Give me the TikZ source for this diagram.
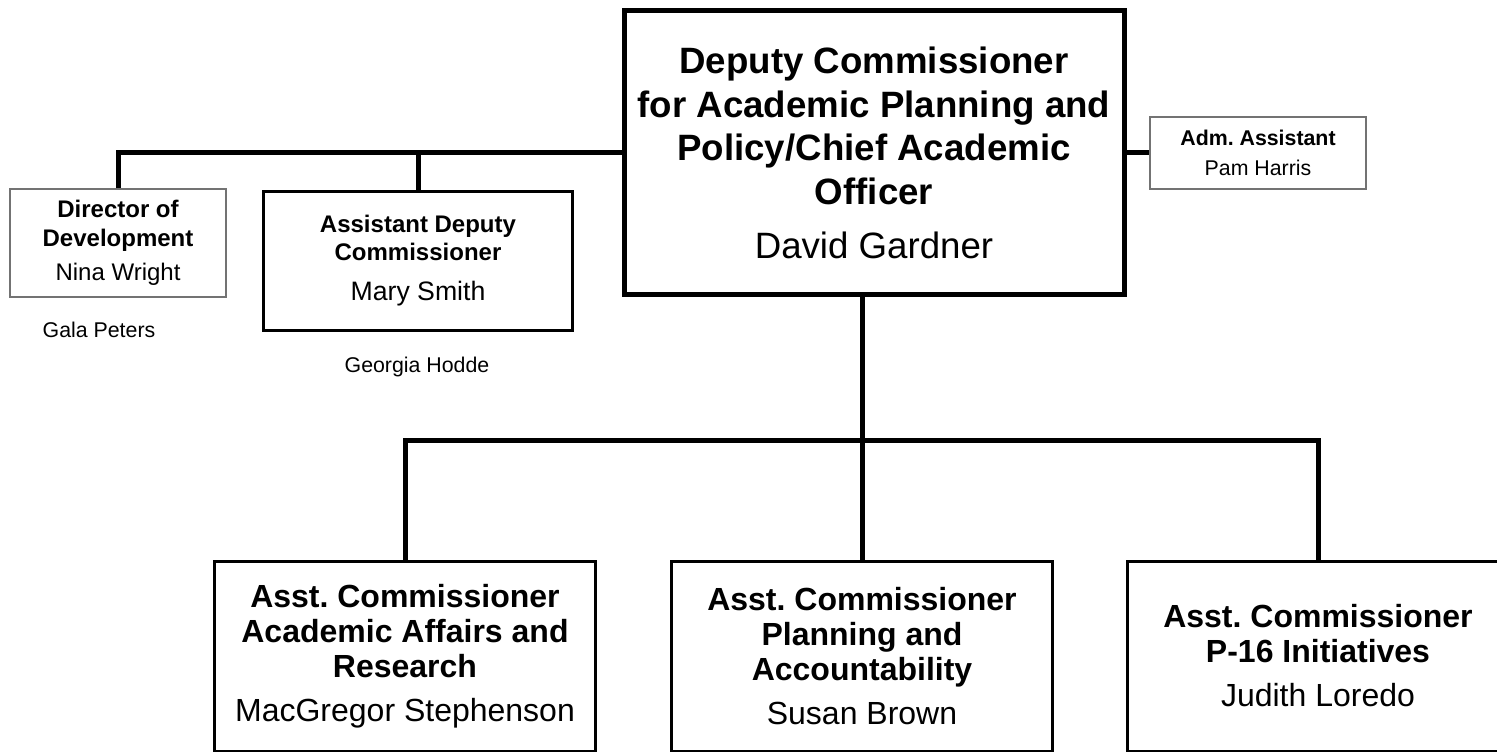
\documentclass[tikz,border=0pt]{standalone}
\usepackage{fontspec}
\setmainfont{Liberation Sans}
\frenchspacing
\begin{document}
\begin{tikzpicture}[x=0.75pt,y=-0.75pt,line join=miter]
	\tikzset{link/.style={line width=3.75pt},
		chief/.style={draw,line width=3.75pt,align=center,inner sep=0pt,minimum width=375pt,minimum height=213pt,font=\fontsize{27.5}{32.6}\selectfont\bfseries},
		staff/.style={draw=black!55,line width=1.1pt,align=center,inner sep=0pt,minimum width=162pt},
		asst/.style={draw,line width=2.25pt,align=center,inner sep=0pt,minimum width=285.75pt,minimum height=142.5pt,font=\fontsize{24}{26.25}\selectfont\bfseries},
		aide/.style={anchor=base,font=\fontsize{16}{19}\selectfont}}
	\useasboundingbox (0,0) rectangle (1497,752);
	\begin{scope}
		\clip (0,0) rectangle (1497,752);
		\node[chief](dep) at (874,153) {Deputy Commissioner\\for Academic Planning and\\Policy/Chief Academic\\Officer\\[8pt]\mdseries David Gardner};
		\node[staff,minimum height=81pt,font=\fontsize{18}{21.75}\selectfont\bfseries](dir) at (118,243) {Director of\\Development\\[3.75pt]\mdseries Nina Wright};
		\node[draw,line width=2.25pt,align=center,inner sep=0pt,minimum width=231.75pt,minimum height=104.25pt,font=\fontsize{18}{21}\selectfont\bfseries](adc) at (418,261) {Assistant Deputy\\Commissioner\\[9pt]\mdseries\fontsize{20}{21}\selectfont Mary Smith};
		\node[staff,minimum height=54pt,font=\fontsize{16}{22.5}\selectfont\bfseries](adm) at (1258,153) {Adm. Assistant\\\mdseries Pam Harris};
		\node[aide](gala) at (99,338) {Gala Peters};
		\node[aide](georgia) at (417,373) {Georgia Hodde};
		\node[asst](aa) at (405,656) {Asst. Commissioner\\Academic Affairs and\\Research\\[6.75pt]\mdseries MacGregor Stephenson};
		\node[asst](pa) at (862,656) {Asst. Commissioner\\Planning and\\Accountability\\[6.75pt]\mdseries Susan Brown};
		\node[asst](p16) at (1318,656) {Asst. Commissioner\\P-16 Initiatives\\[6.75pt]\mdseries Judith Loredo};
		\coordinate (bus) at (862,441);
		% links
		\draw[link](dir.north) |- (dep.west);
		\draw[link](adc.north) -- (adc.north |- dep.west);
		\draw[link](dep.east) -- (adm.west);
		\draw[link](bus) -- (bus |- dep.south);
		\draw[link](aa.north) |- (p16.north |- bus) -- (p16.north);
		\draw[link](bus) -- (pa.north);
	\end{scope}
\end{tikzpicture}
\end{document}
